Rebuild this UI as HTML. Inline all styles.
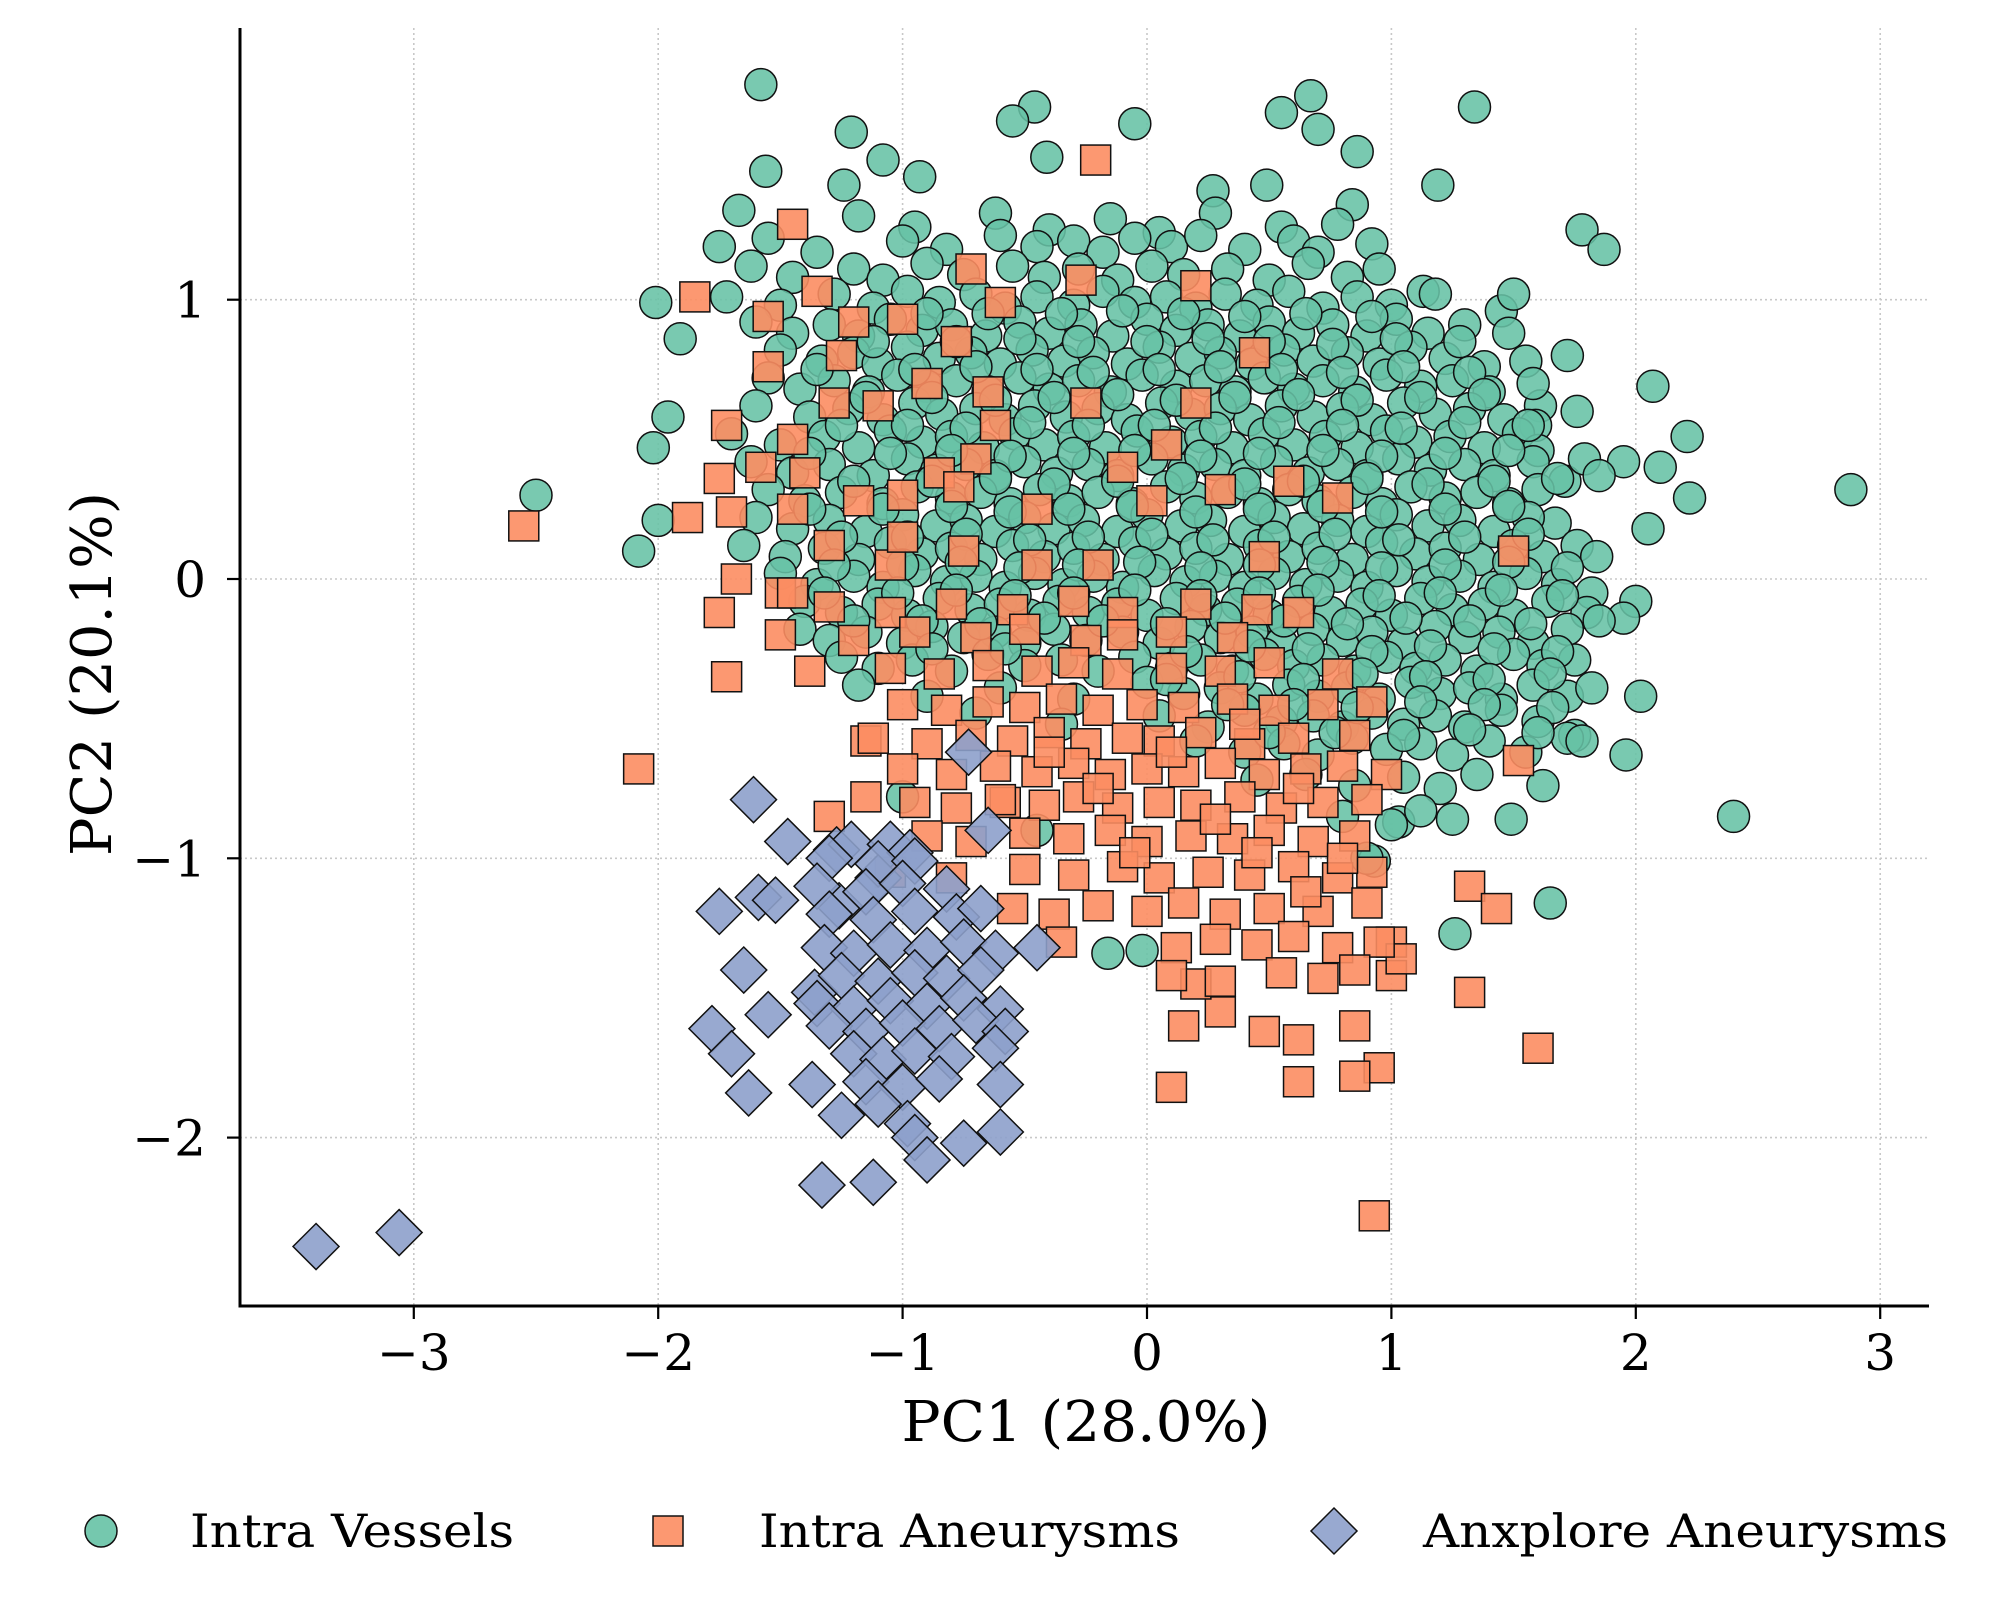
<!DOCTYPE html>
<html><head><meta charset="utf-8"><style>
html,body{margin:0;padding:0;background:#fff}
svg{display:block}
text{font-family:"DejaVu Serif","Liberation Serif",serif;fill:#000}
</style></head><body>
<svg id="chart" width="1992" height="1607" viewBox="0 0 1992 1607" xmlns="http://www.w3.org/2000/svg">
<rect width="1992" height="1607" fill="#fff"/>
<g id="grid"></g>
<g id="green"></g>
<g id="orange"></g>
<g id="blue"></g>
<g id="axes"></g>
<text x="1086" y="1441" font-size="56" text-anchor="middle" textLength="369" lengthAdjust="spacingAndGlyphs">PC1 (28.0%)</text>
<text transform="translate(111,674) rotate(-90)" font-size="56" text-anchor="middle" textLength="364" lengthAdjust="spacingAndGlyphs">PC2 (20.1%)</text>
<g transform="translate(0,-6)">
<g>
<circle cx="101" cy="1537" r="16" fill="#66c2a5" fill-opacity="0.9" stroke="#111" stroke-width="1.5"/>
<text x="190" y="1553" font-size="46" textLength="324" lengthAdjust="spacingAndGlyphs">Intra Vessels</text></g>
<g>
<rect x="653" y="1522" width="30" height="30" fill="#fc8d62" fill-opacity="0.9" stroke="#111" stroke-width="1.5"/>
<text x="759" y="1553" font-size="46" textLength="421" lengthAdjust="spacingAndGlyphs">Intra Aneurysms</text></g>
<g>
<polygon points="1334,1514 1357,1537 1334,1560 1311,1537" fill="#8da0cb" fill-opacity="0.9" stroke="#111" stroke-width="1.5"/>
<text x="1423" y="1553" font-size="46" textLength="525" lengthAdjust="spacingAndGlyphs">Anxplore Aneurysms</text></g>
</g>
</svg>
<script>
const xTicks=[-3,-2,-1,0,1,2,3];
const yTicks=[-2,-1,0,1];
const xTickLabels=["\u22123","\u22122","\u22121","0","1","2","3"];
const yTickLabels=["\u22122","\u22121","0","1"];
const greenPts=[
[-1.58,1.77],[-1.21,1.60],[-0.46,1.69],[-0.55,1.64],[-0.05,1.63],[0.67,1.73],[0.55,1.67],[0.70,1.61],[1.34,1.69],[0.86,1.53],[-1.08,1.50],[-0.93,1.44],[-1.56,1.46],[-0.41,1.51],[-1.24,1.41],[1.19,1.41],[0.84,1.34],[0.49,1.41],[0.27,1.39],[-1.67,1.32],[-1.75,1.19],[1.78,1.25],[1.87,1.18],[-2.01,0.99],[-1.91,0.86],[2.07,0.69],[2.21,0.51],[2.88,0.32],[2.22,0.29],[2.40,-0.85],[1.65,-1.16],[-2.50,0.30],[-2.08,0.10],[-2.00,0.21],[-2.02,0.47],[-1.96,0.58],[1.96,-0.63],[2.02,-0.42],[2.00,-0.08],[1.49,-0.86],[1.26,-1.27],[-0.16,-1.34],[-0.02,-1.33],[0.93,-1.01],[1.03,-0.87],[1.67,0.20],[1.76,0.12],[1.84,0.08],[1.71,0.35],[1.79,0.43],[1.61,0.62],[1.59,0.55],[1.76,0.60],[1.72,0.80],[2.05,0.18],[1.95,0.42],
[-1.18,1.30],[-0.95,1.26],[-0.62,1.31],[-0.40,1.25],[-0.15,1.29],[0.05,1.24],[0.28,1.31],[0.55,1.26],[0.78,1.27],
[-1.55,1.22],[-1.35,1.17],[-1.0,1.21],[-0.82,1.18],[-0.6,1.23],[-0.45,1.19],[-0.3,1.21],[-0.18,1.17],[-0.05,1.22],[0.1,1.19],[0.22,1.23],[0.4,1.18],[0.6,1.21],[0.7,1.17],[0.92,1.20],
[-1.62,1.12],[-1.45,1.08],[-1.2,1.11],[-1.08,1.07],[-0.9,1.13],[-0.75,1.09],[-0.55,1.12],[-0.42,1.08],[-0.28,1.11],[-0.12,1.07],[0.02,1.12],[0.15,1.09],[0.33,1.11],[0.5,1.07],[0.66,1.13],[0.82,1.08],[0.95,1.11],[1.13,1.03],
[-1.72,1.01],[-1.5,0.98],[-1.28,1.02],[-1.12,0.97],[-0.98,1.03],[-0.85,0.99],[-0.7,1.02],[-0.58,0.97],[-0.45,1.01],[-0.3,0.98],[-0.18,1.03],[-0.05,0.99],[0.08,1.01],[0.2,0.97],[0.32,1.02],[0.45,0.98],[0.58,1.03],[0.72,0.97],[0.86,1.01],[1.0,0.98],[1.18,1.02],[1.45,0.96],[1.5,1.02],
[-1.6,0.92],[-1.45,0.88],[-1.3,0.91],[-1.18,0.87],[-1.05,0.93],[-0.92,0.89],[-0.8,0.91],[-0.66,0.87],[-0.52,0.92],[-0.4,0.88],[-0.27,0.91],[-0.14,0.87],[0.0,0.93],[0.12,0.89],[0.25,0.91],[0.38,0.87],[0.5,0.92],[0.62,0.88],[0.76,0.91],[0.9,0.87],[1.02,0.93],[1.15,0.88],[1.3,0.91],[1.48,0.88],
[-1.5,0.82],[-1.33,0.78],[-1.2,0.81],[-1.1,0.77],[-0.98,0.83],[-0.85,0.79],[-0.72,0.81],[-0.6,0.77],[-0.47,0.82],[-0.34,0.78],[-0.22,0.81],[-0.08,0.77],[0.05,0.83],[0.18,0.79],[0.3,0.81],[0.43,0.77],[0.56,0.82],[0.68,0.78],[0.82,0.81],[0.95,0.77],[1.08,0.83],[1.22,0.79],[1.38,0.76],[1.55,0.78],
[-1.55,0.72],[-1.42,0.68],[-1.28,0.71],[-1.14,0.67],[-1.02,0.73],[-0.9,0.69],[-0.78,0.71],[-0.65,0.67],[-0.52,0.72],[-0.4,0.68],[-0.28,0.71],[-0.15,0.67],[-0.02,0.73],[0.12,0.69],[0.24,0.71],[0.36,0.67],[0.48,0.72],[0.6,0.68],[0.72,0.71],[0.85,0.67],[0.98,0.73],[1.12,0.69],[1.25,0.71],[1.4,0.67],[1.58,0.70],
[-1.6,0.62],[-1.38,0.58],[-1.22,0.61],[-1.08,0.57],[-0.95,0.63],[-0.84,0.59],[-0.7,0.61],[-0.58,0.57],[-0.46,0.62],[-0.33,0.58],[-0.2,0.61],[-0.08,0.57],[0.06,0.63],[0.18,0.59],[0.3,0.61],[0.42,0.57],[0.55,0.62],[0.68,0.58],[0.8,0.61],[0.92,0.57],[1.05,0.63],[1.18,0.59],[1.32,0.61],[1.46,0.57],
[-1.7,0.52],[-1.5,0.48],[-1.32,0.51],[-1.18,0.47],[-1.05,0.53],[-0.92,0.49],[-0.8,0.51],[-0.67,0.47],[-0.54,0.52],[-0.42,0.48],[-0.3,0.51],[-0.17,0.47],[-0.04,0.53],[0.1,0.49],[0.22,0.51],[0.35,0.47],[0.48,0.52],[0.6,0.48],[0.73,0.51],[0.86,0.47],[0.98,0.53],[1.1,0.49],[1.24,0.51],[1.38,0.47],[1.52,0.52],[1.6,0.46],
[-1.62,0.42],[-1.45,0.38],[-1.3,0.41],[-1.12,0.37],[-0.98,0.43],[-0.86,0.39],[-0.74,0.41],[-0.62,0.37],[-0.5,0.42],[-0.37,0.38],[-0.24,0.41],[-0.12,0.37],[0.02,0.43],[0.15,0.39],[0.28,0.41],[0.4,0.37],[0.53,0.42],[0.66,0.38],[0.78,0.41],[0.9,0.37],[1.03,0.43],[1.16,0.39],[1.3,0.41],[1.42,0.37],[1.58,0.42],[1.85,0.37],[2.1,0.40],
[-1.55,0.32],[-1.4,0.28],[-1.25,0.31],[-1.08,0.27],[-0.94,0.33],[-0.8,0.29],[-0.68,0.31],[-0.56,0.27],[-0.44,0.32],[-0.32,0.28],[-0.2,0.31],[-0.06,0.27],[0.08,0.33],[0.2,0.29],[0.33,0.31],[0.46,0.27],[0.58,0.32],[0.7,0.28],[0.84,0.31],[0.96,0.27],[1.08,0.33],[1.22,0.29],[1.35,0.31],[1.48,0.27],[1.6,0.32],
[-1.6,0.22],[-1.45,0.18],[-1.3,0.21],[-1.15,0.17],[-1.0,0.23],[-0.86,0.19],[-0.74,0.21],[-0.62,0.17],[-0.5,0.22],[-0.38,0.18],[-0.26,0.21],[-0.12,0.17],[0.0,0.23],[0.14,0.19],[0.26,0.21],[0.4,0.17],[0.52,0.22],[0.64,0.18],[0.78,0.21],[0.9,0.17],[1.02,0.23],[1.15,0.19],[1.28,0.21],[1.42,0.17],[1.56,0.22],
[-1.65,0.12],[-1.48,0.08],[-1.32,0.11],[-1.18,0.07],[-1.05,0.13],[-0.92,0.09],[-0.8,0.11],[-0.68,0.07],[-0.55,0.12],[-0.42,0.08],[-0.3,0.11],[-0.18,0.07],[-0.05,0.13],[0.08,0.09],[0.2,0.11],[0.33,0.07],[0.46,0.12],[0.58,0.08],[0.7,0.11],[0.84,0.07],[0.96,0.13],[1.1,0.09],[1.22,0.11],[1.36,0.07],[1.5,0.12],[1.62,0.08],
[-1.5,0.02],[-1.35,-0.02],[-1.2,0.01],[-1.08,-0.03],[-0.95,0.03],[-0.82,-0.01],[-0.7,0.01],[-0.58,-0.03],[-0.46,0.02],[-0.34,-0.02],[-0.22,0.01],[-0.1,-0.03],[0.03,0.03],[0.16,-0.01],[0.28,0.01],[0.4,-0.03],[0.52,0.02],[0.65,-0.02],[0.78,0.01],[0.9,-0.03],[1.02,0.03],[1.15,-0.01],[1.28,0.01],[1.42,-0.03],[1.55,0.02],[1.68,-0.02],[1.82,-0.05],
[-1.4,-0.08],[-1.25,-0.12],[-1.1,-0.09],[-0.98,-0.13],[-0.85,-0.07],[-0.72,-0.11],[-0.6,-0.09],[-0.48,-0.13],[-0.36,-0.08],[-0.24,-0.12],[-0.12,-0.09],[0.0,-0.13],[0.12,-0.07],[0.24,-0.11],[0.37,-0.09],[0.5,-0.13],[0.62,-0.08],[0.75,-0.12],[0.88,-0.09],[1.0,-0.13],[1.12,-0.07],[1.25,-0.11],[1.38,-0.09],[1.5,-0.13],[1.64,-0.08],[1.8,-0.12],[1.95,-0.14],
[-1.42,-0.18],[-1.3,-0.22],[-1.15,-0.19],[-1.0,-0.23],[-0.88,-0.17],[-0.75,-0.21],[-0.62,-0.19],[-0.5,-0.23],[-0.38,-0.18],[-0.25,-0.22],[-0.1,-0.19],[0.05,-0.23],[0.18,-0.17],[0.3,-0.21],[0.43,-0.19],[0.55,-0.23],[0.68,-0.18],[0.8,-0.22],[0.92,-0.19],[1.05,-0.23],[1.18,-0.17],[1.3,-0.21],[1.44,-0.19],[1.58,-0.23],[1.72,-0.18],
[-1.25,-0.28],[-1.1,-0.32],[-0.96,-0.29],[-0.8,-0.33],[-0.65,-0.27],[-0.5,-0.31],[-0.35,-0.29],[-0.2,-0.33],[-0.05,-0.28],[0.1,-0.32],[0.22,-0.29],[0.35,-0.33],[0.48,-0.27],[0.6,-0.31],[0.72,-0.29],[0.85,-0.33],[0.98,-0.28],[1.1,-0.32],[1.22,-0.29],[1.35,-0.33],[1.5,-0.27],[1.62,-0.31],[1.75,-0.29],
[-1.18,-0.38],[-0.9,-0.42],[-0.6,-0.39],[-0.3,-0.43],[0.0,-0.37],[0.15,-0.41],[0.3,-0.39],[0.45,-0.43],[0.58,-0.38],[0.7,-0.42],[0.82,-0.39],[0.95,-0.43],[1.08,-0.37],[1.2,-0.41],[1.32,-0.39],[1.45,-0.43],[1.58,-0.38],[1.72,-0.42],[1.82,-0.39],
[-0.7,-0.48],[-0.35,-0.52],[0.05,-0.49],[0.25,-0.53],[0.4,-0.47],[0.55,-0.51],[0.68,-0.49],[0.8,-0.53],[0.92,-0.48],[1.05,-0.52],[1.18,-0.49],[1.3,-0.53],[1.45,-0.47],[1.6,-0.51],[1.75,-0.56],
[0.2,-0.58],[0.4,-0.62],[0.56,-0.59],[0.7,-0.63],[0.84,-0.57],[0.98,-0.61],[1.12,-0.59],[1.25,-0.63],[1.4,-0.58],[1.55,-0.62],[1.72,-0.57],[1.78,-0.58],
[0.45,-0.72],[0.65,-0.70],[0.85,-0.74],[1.05,-0.71],[1.2,-0.75],[1.35,-0.70],[1.62,-0.74],
[-0.45,-0.90],[0.8,-0.85],[1.0,-0.88],[1.12,-0.83],[1.25,-0.86],[0.9,-1.0],[-1.0,-0.78],
[-0.9,0.95],[-0.65,0.95],[-0.35,0.95],[-0.1,0.96],[0.15,0.95],[0.4,0.94],[0.65,0.95],[0.92,0.94],
[-1.12,0.85],[-0.78,0.85],[-0.52,0.86],[-0.28,0.85],[0.0,0.85],[0.25,0.86],[0.5,0.85],[0.76,0.84],[1.02,0.86],[1.28,0.85],
[-1.35,0.75],[-0.95,0.75],[-0.7,0.76],[-0.45,0.75],[-0.22,0.74],[0.05,0.75],[0.3,0.76],[0.55,0.75],[0.8,0.74],[1.05,0.76],[1.32,0.74],
[-1.15,0.65],[-0.88,0.65],[-0.62,0.64],[-0.38,0.65],[-0.12,0.66],[0.12,0.64],[0.36,0.65],[0.62,0.66],[0.86,0.64],[1.12,0.65],[1.38,0.66],
[-1.25,0.55],[-0.98,0.55],[-0.74,0.54],[-0.48,0.56],[-0.24,0.55],[0.03,0.55],[0.28,0.54],[0.54,0.56],[0.8,0.55],[1.04,0.54],[1.3,0.56],[1.56,0.55],
[-1.38,0.45],[-1.05,0.45],[-0.8,0.46],[-0.56,0.44],[-0.3,0.45],[-0.05,0.46],[0.22,0.44],[0.46,0.45],[0.72,0.46],[0.96,0.44],[1.22,0.45],[1.48,0.46],
[-1.2,0.35],[-0.88,0.35],[-0.62,0.36],[-0.38,0.34],[-0.12,0.35],[0.14,0.36],[0.4,0.34],[0.64,0.35],[0.9,0.36],[1.15,0.34],[1.42,0.35],[1.68,0.36],
[-1.38,0.25],[-1.08,0.25],[-0.8,0.26],[-0.56,0.24],[-0.32,0.25],[-0.06,0.26],[0.2,0.24],[0.46,0.25],[0.72,0.26],[0.96,0.24],[1.22,0.25],[1.48,0.26],
[-1.25,0.15],[-0.98,0.15],[-0.74,0.16],[-0.48,0.14],[-0.24,0.15],[0.02,0.16],[0.27,0.14],[0.52,0.15],[0.77,0.16],[1.03,0.14],[1.3,0.15],[1.56,0.16],
[-1.28,0.05],[-1.0,0.05],[-0.76,0.06],[-0.52,0.04],[-0.28,0.05],[-0.03,0.06],[0.22,0.04],[0.46,0.05],[0.72,0.06],[0.96,0.04],[1.22,0.05],[1.48,0.06],[1.72,0.04],
[-1.32,-0.05],[-1.02,-0.05],[-0.78,-0.04],[-0.54,-0.06],[-0.3,-0.05],[-0.05,-0.04],[0.22,-0.06],[0.46,-0.05],[0.7,-0.04],[0.95,-0.06],[1.2,-0.05],[1.45,-0.04],[1.7,-0.06],
[-1.2,-0.15],[-0.92,-0.15],[-0.68,-0.16],[-0.42,-0.14],[-0.18,-0.15],[0.08,-0.16],[0.32,-0.14],[0.56,-0.15],[0.82,-0.16],[1.06,-0.14],[1.32,-0.15],[1.57,-0.16],[1.85,-0.15],
[-0.88,-0.25],[-0.58,-0.25],[0.16,-0.26],[0.42,-0.24],[0.66,-0.25],[0.92,-0.26],[1.16,-0.24],[1.42,-0.25],[1.68,-0.26],
[0.08,-0.36],[0.38,-0.35],[0.64,-0.36],[0.88,-0.34],[1.14,-0.35],[1.4,-0.36],[1.65,-0.34],
[0.33,-0.45],[0.6,-0.45],[0.86,-0.46],[1.12,-0.44],[1.38,-0.45],[1.66,-0.46],
[0.5,-0.55],[0.77,-0.55],[1.05,-0.56],[1.32,-0.54],[1.6,-0.55]
];
const orangePts=[
[-1.45,1.27],[-0.21,1.50],[-1.55,0.94],[-1.35,1.03],[-1.85,1.01],[-0.72,1.11],[-0.6,0.99],[-0.27,1.07],[0.2,1.05],[-1.0,0.93],[-1.2,0.92],[-0.78,0.85],[0.44,0.81],[-1.55,0.76],[-1.25,0.80],[-1.72,0.55],[-1.28,0.63],[-0.65,0.67],[-0.9,0.70],[-0.25,0.63],[0.2,0.63],[-1.45,0.50],[-1.58,0.40],[-1.75,0.36],[-1.4,0.38],[-0.85,0.38],[-0.7,0.43],[0.08,0.48],[0.58,0.35],[-2.55,0.19],[-1.88,0.22],[-1.7,0.24],[-1.45,0.25],[-1.18,0.28],[-1.0,0.30],[-0.77,0.33],[-0.45,0.25],[-0.1,0.40],[0.3,0.32],[0.78,0.29],[1.5,0.10],[0.48,0.08],[-1.68,0.0],[-1.5,-0.05],[-0.2,0.05],[-0.75,0.10],[-0.45,0.05],[-1.3,0.12],[-1.05,0.05],[-0.62,0.55],[-1.1,0.62],[-1.0,0.15],[0.02,0.28],[-2.08,-0.68],[1.6,-1.68],[0.93,-2.28],[1.32,-1.10],[1.43,-1.18],[1.32,-1.48],[1.0,-1.30],[1.0,-1.42],[0.95,-1.75],[0.85,-1.78],[0.62,-1.80],[0.1,-1.82],[0.15,-1.60],[0.3,-1.55],[0.48,-1.62],[0.62,-1.65],[0.85,-1.60],[0.2,-1.45],[-1.75,-0.12],[-1.72,-0.35],[-1.45,-0.05],[-1.3,-0.85],[-1.15,-0.78],[-1.15,-0.58],[1.52,-0.65],[1.04,-1.36],[-0.58,-0.80],[-1.38,-0.33],[0.62,-0.12],
[-1.3,-0.10],[-1.05,-0.12],[-0.8,-0.09],[-0.55,-0.11],[-0.3,-0.08],[-0.1,-0.12],[0.2,-0.09],[0.45,-0.11],
[-1.5,-0.20],[-1.2,-0.22],[-0.95,-0.19],[-0.7,-0.21],[-0.5,-0.18],[-0.25,-0.22],[-0.1,-0.20],[0.1,-0.19],[0.35,-0.21],
[-1.05,-0.32],[-0.85,-0.34],[-0.65,-0.31],[-0.45,-0.33],[-0.3,-0.30],[-0.12,-0.34],[0.1,-0.32],[0.3,-0.33],[0.5,-0.30],[0.78,-0.34],
[-1.0,-0.45],[-0.82,-0.47],[-0.65,-0.44],[-0.5,-0.46],[-0.35,-0.43],[-0.2,-0.47],[-0.02,-0.45],[0.15,-0.46],[0.35,-0.43],[0.52,-0.47],[0.72,-0.45],[0.92,-0.44],
[-1.12,-0.57],[-0.9,-0.59],[-0.72,-0.56],[-0.55,-0.58],[-0.4,-0.55],[-0.25,-0.59],[-0.08,-0.57],[0.05,-0.58],[0.22,-0.55],[0.42,-0.59],[0.6,-0.57],[0.85,-0.56],
[-1.0,-0.68],[-0.8,-0.70],[-0.62,-0.67],[-0.45,-0.69],[-0.3,-0.66],[-0.15,-0.70],[0.0,-0.68],[0.15,-0.69],[0.3,-0.66],[0.48,-0.70],[0.65,-0.68],[0.8,-0.67],[0.98,-0.70],
[-0.95,-0.80],[-0.78,-0.82],[-0.6,-0.79],[-0.42,-0.81],[-0.28,-0.78],[-0.12,-0.82],[0.05,-0.80],[0.2,-0.81],[0.38,-0.78],[0.55,-0.82],[0.72,-0.80],[0.9,-0.79],
[-0.9,-0.92],[-0.72,-0.94],[-0.5,-0.91],[-0.32,-0.93],[-0.15,-0.90],[0.0,-0.94],[0.18,-0.92],[0.35,-0.93],[0.5,-0.90],[0.68,-0.94],[0.85,-0.92],
[-1.05,-1.05],[-0.8,-1.07],[-0.5,-1.04],[-0.3,-1.06],[-0.1,-1.03],[0.05,-1.07],[0.25,-1.05],[0.42,-1.06],[0.6,-1.03],[0.78,-1.07],[0.92,-1.05],
[-0.55,-1.18],[-0.38,-1.20],[-0.2,-1.17],[0.0,-1.19],[0.15,-1.16],[0.32,-1.20],[0.5,-1.18],[0.7,-1.19],[0.9,-1.16],
[-0.35,-1.30],[0.12,-1.32],[0.28,-1.29],[0.45,-1.31],[0.6,-1.28],[0.78,-1.32],[0.95,-1.30],
[0.1,-1.42],[0.3,-1.44],[0.55,-1.41],[0.72,-1.43],[0.85,-1.40],
[-0.4,-0.62],[-0.2,-0.75],[0.1,-0.62],[0.28,-0.86],[0.45,-0.98],[0.65,-1.12],[-0.05,-0.98],[0.4,-0.52],[0.62,-0.75],[0.8,-1.0]
];
const bluePts=[
[-3.40,-2.39],[-3.06,-2.34],[-1.61,-0.79],[-1.47,-0.94],[-1.75,-1.19],[-1.59,-1.14],[-1.52,-1.15],[-1.27,-0.97],[-1.21,-0.95],[-1.05,-0.95],[-0.97,-0.98],[-0.73,-0.62],[-0.65,-0.90],[-1.10,-1.07],[-1.26,-1.17],[-0.45,-1.32],[-1.78,-1.61],[-1.70,-1.70],[-1.63,-1.84],[-1.37,-1.81],[-1.55,-1.56],[-1.65,-1.40],[-1.36,-1.48],[-1.12,-2.16],[-1.33,-2.17],
[-1.3,-1.00],[-1.1,-1.02],[-0.95,-1.01],
[-1.35,-1.10],[-1.15,-1.12],[-1.0,-1.09],[-0.82,-1.11],
[-1.3,-1.20],[-1.12,-1.22],[-0.95,-1.19],[-0.78,-1.21],[-0.68,-1.18],
[-1.32,-1.32],[-1.2,-1.34],[-1.05,-1.31],[-0.9,-1.33],[-0.75,-1.30],[-0.62,-1.34],
[-1.25,-1.42],[-1.1,-1.44],[-0.95,-1.41],[-0.82,-1.43],[-0.68,-1.40],
[-1.35,-1.52],[-1.2,-1.54],[-1.05,-1.51],[-0.9,-1.53],[-0.75,-1.50],[-0.6,-1.54],
[-1.3,-1.60],[-1.15,-1.62],[-1.0,-1.59],[-0.85,-1.61],[-0.7,-1.58],[-0.58,-1.62],
[-1.2,-1.70],[-1.08,-1.72],[-0.95,-1.69],[-0.8,-1.71],[-0.62,-1.68],
[-1.15,-1.80],[-1.0,-1.82],[-0.85,-1.79],[-0.6,-1.81],
[-1.25,-1.92],[-1.1,-1.88],[-0.98,-1.95],
[-0.95,-2.00],[-0.75,-2.02],[-0.6,-1.98],[-0.9,-2.08]
];
const X0=1147,XS=244.4,Y0=579,YS=279.3;
function sx(v){return X0+v*XS;}
function sy(v){return Y0-v*YS;}
const NS="http://www.w3.org/2000/svg";
function mk(tag,attrs,parent){const e=document.createElementNS(NS,tag);for(const k in attrs)e.setAttribute(k,attrs[k]);parent.appendChild(e);return e;}
const L=240,R=1929,T=28,B=1306;
const grid=document.getElementById('grid');
xTicks.forEach(t=>{const l=mk('line',{x1:sx(t),x2:sx(t),y1:T,y2:B,stroke:'#c8c8c8','stroke-width':1.6,'stroke-dasharray':'2,3'},grid);

});
yTicks.forEach(t=>{const l=mk('line',{x1:L,x2:R,y1:sy(t),y2:sy(t),stroke:'#c8c8c8','stroke-width':1.6,'stroke-dasharray':'2,3'},grid);

});
const gG=document.getElementById('green');
greenPts.forEach(p=>{const c=mk('circle',{cx:sx(p[0]),cy:sy(p[1]),r:16,fill:'#66c2a5','fill-opacity':0.88,stroke:'#111','stroke-width':1.5},gG);

});
const gO=document.getElementById('orange');
orangePts.forEach(p=>{const r=mk('rect',{x:sx(p[0])-15,y:sy(p[1])-15,width:30,height:30,fill:'#fc8d62','fill-opacity':0.9,stroke:'#111','stroke-width':1.5},gO);

});
const gB=document.getElementById('blue');
bluePts.forEach(p=>{const x=sx(p[0]),y=sy(p[1]),h=23;const d=mk('polygon',{points:`${x},${y-h} ${x+h},${y} ${x},${y+h} ${x-h},${y}`,fill:'#8da0cb','fill-opacity':0.9,stroke:'#111','stroke-width':1.5},gB);

});
const ax=document.getElementById('axes');
mk('line',{x1:L,x2:L,y1:T,y2:B+1.5,stroke:'#000','stroke-width':3},ax);
mk('line',{x1:L-1.5,x2:R,y1:B,y2:B,stroke:'#000','stroke-width':3},ax);
xTicks.forEach((t,i)=>{mk('line',{x1:sx(t),x2:sx(t),y1:B,y2:B+13,stroke:'#000','stroke-width':2.2},ax);
const tx=mk('text',{x:sx(t),y:1370,'font-size':50,'text-anchor':'middle'},ax);tx.textContent=xTickLabels[i];

});
yTicks.forEach((t,i)=>{mk('line',{x1:L-13,x2:L,y1:sy(t),y2:sy(t),stroke:'#000','stroke-width':2.2},ax);
const tx=mk('text',{x:206,y:sy(t)+18,'font-size':50,'text-anchor':'end'},ax);tx.textContent=yTickLabels[i];

});
</script>
</body></html>
